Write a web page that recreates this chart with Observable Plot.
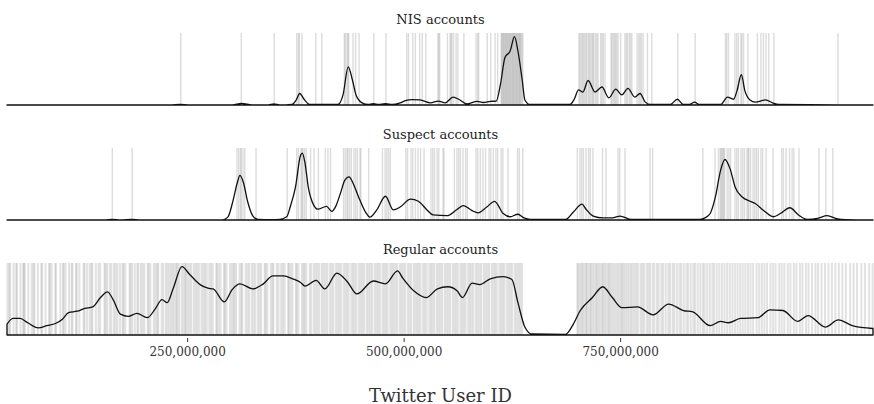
<!DOCTYPE html>
<html>
<head>
<meta charset="utf-8">
<script src="https://cdn.jsdelivr.net/npm/d3@7"></script>
<script src="https://cdn.jsdelivr.net/npm/@observablehq/plot@0.6"></script>
<style>
  html, body { margin: 0; padding: 0; background: #fff; }
</style>
</head>
<body>
<div id="chart"></div>
<script>
// Facet names
const groups = ["NIS accounts", "Suspect accounts", "Regular accounts"];

// X tick values (Twitter user ID, in millions)
const xTicks = [250, 500, 750];
const xLabel = "Twitter User ID";

// Rug: individual account IDs (millions)
const nisIds = [242,312,350,376,378,379,382,398,405,431,432,434,435,436,441,444,448,465,479,503,505,510,513,518,521,525,539,540,541,550,553,554,555,557,560,562,569,583,585,586,596,600,605,608,612,612.8,613.5,614.4,615,616,616.7,617.5,618.3,619,620,620.6,621.5,622.3,623,624,624.8,625.5,626.3,627,628,628.7,629.5,630.4,631,632,632.8,633.5,634.2,635,636,637,702,703,704.5,706,707,708.5,710,711,713,714,715.5,717,718,719,721,722.5,724,727,728.5,730,732,739,740,741.5,743,744,745.5,747,750,755,756.5,758,760,761.5,763,769,771,772.5,774,776,781,786,816,836,871,872.5,874.5,882,884,886,889,890,892,897,908,912,915,918,921,927,1001];

const suspectIds = [163,186,307,309,311,312,314,316,329,365,376,378,381,382,383,385,387,392,396,401,409,412,415,430,432,434,435,437,439,442,444,446,449,450,459,475,478,480,482,484,502,504,508,510,513,516,519,523,531,533,535,538,540,545,546,558,561,563,565,568,571,573,583,585,588,591,594,598,600,603,606,608,612,614,620,631,633,637,700,703,705,707,710,713,715,718,729,733,747,749,755,784,787,845,859,863,865,866,867,868,869,870,873,875,877,882,884,886,889,891,893,896,897,898,900,903,905,907,909,912,914,918,926,936,938,941,945,948,950,956,979,987,995];

const regularIds = [42,44,45,49,52,53,57,60,61,62,66,70,72,73,77,81,82,86,90,91,93,97,98,103,106,107,109,113,116,117,121,122,125,130,131,134,137,139,140,144,147,149,154,155,157,160,162,165,167,169,172,175,176,178,183,184,186,189,192,193,196,198,200,204,205,207,211,213,215,216,220,222,225,227,229,231,233,235,237,238,240,243,245,247,248,250,252,254,257,259,261,263,266,268,270,272,275,277,279,283,284,286,288,292,293,295,299,301,303,304,306,310,312,313,317,319,321,324,326,328,331,333,335,339,340,342,346,348,349,353,355,358,360,362,366,367,369,371,375,376,378,382,384,385,387,391,393,396,398,400,402,405,407,409,411,414,416,418,421,423,425,427,430,432,434,436,439,441,443,445,448,450,452,454,457,459,461,463,466,468,470,472,475,477,479,481,484,486,488,490,492,495,497,499,501,504,506,508,511,513,515,517,519,522,524,526,529,531,533,535,538,540,542,544,547,549,551,553,556,558,560,562,565,567,569,571,574,576,578,580,583,585,587,589,592,594,596,598,601,603,605,607,610,612,614,616,619,621,623,625,628,630,632,634,636,700,701,703,705,706,708,710,711,713,715,716,718,720,722,723,725,727,729,730,732,734,736,737,739,741,743,745,747,749,751,752,754,756,758,760,762,764,766,768,770,773,775,777,780,782,784,787,789,792,794,797,799,802,805,807,810,812,815,818,820,823,826,828,831,834,836,839,842,845,847,850,853,856,858,861,864,867,870,873,876,879,882,885,888,891,894,897,900,903,907,910,913,916,919,923,926,929,933,936,939,943,946,950,953,957,960,964,967,971,975,978,982,986,990,994,998,1002,1006,1010,1015,1019,1023,1028,1032,1037,1041];

// Density curves (x in millions, y = relative density)
const nisCurveX = [42,230,242,253,302,313,325,344,350,357,371,376,380,385,392,424,430,436,441,445,452,459,465,471,479,487,496,502,510,519,531,540,548,557,565,573,585,592,600,607,612,617,623,628,632,637,640,646,692,697,702,707,713,721,729,737,745,752,759,767,773,779,785,808,816,823,830,836,841,866,874,881,885,890,894,900,906,918,926,933,1042];
const nisCurveY = [0,0,.008,0,0,.023,0,0,.014,0,.007,.07,.16,.08,.007,.007,.14,.53,.34,.14,.03,.007,.02,.007,.02,.007,.03,.06,.075,.07,.03,.055,.03,.11,.07,.014,.05,.035,.05,.055,.30,.66,.75,.95,.75,.34,.07,.007,.007,.08,.21,.18,.34,.18,.25,.10,.22,.14,.23,.11,.16,.04,.007,.007,.08,.007,.007,.04,.007,.007,.11,.08,.20,.42,.20,.07,.04,.07,.03,.007,0];

const suspectCurveX = [42,155,163,173,186,196,290,297,303,308,311,315,320,326,332,346,357,365,369,375,381,383,386,390,396,401,411,417,422,427,432,437,442,448,456,461,469,479,488,496,508,517,527,534,550,562,569,579,586,596,605,615,623,632,639,646,687,696,706,710,719,730,741,750,762,842,848,854,860,866,871,877,883,891,900,906,915,927,935,946,956,966,978,989,1001,1010,1042];
const suspectCurveY = [0,0,.01,0,.01,0,0,.04,.27,.52,.62,.52,.25,.055,.007,.004,.01,.045,.18,.45,.90,.93,.80,.45,.21,.15,.19,.12,.20,.37,.55,.60,.50,.32,.11,.04,.14,.33,.14,.18,.29,.26,.14,.07,.06,.15,.20,.13,.10,.18,.26,.09,.045,.08,.03,.01,.007,.11,.22,.16,.055,.03,.03,.055,.01,.01,.03,.09,.32,.69,.84,.71,.45,.32,.26,.23,.14,.045,.09,.17,.07,.01,.023,.06,.014,.004,0];

const regularCurveX = [42,49,57,66,78,88,98,106,113,123,132,141,150,158,165,173,182,192,204,213,221,227,234,244,253,265,274,280,293,302,311,326,338,349,361,372,381,386,399,409,423,435,446,465,479,493,499,512,526,539,551,562,568,579,588,600,615,625,632,640,648,687,695,704,718,730,741,752,770,788,806,823,834,854,866,875,889,909,923,938,955,967,987,1002,1018,1042];
const regularCurveY = [.15,.23,.23,.17,.10,.13,.16,.22,.31,.33,.37,.39,.52,.60,.48,.29,.26,.30,.24,.36,.49,.45,.65,.95,.84,.70,.65,.64,.46,.63,.71,.64,.71,.82,.82,.78,.73,.68,.76,.64,.86,.74,.57,.75,.71,.89,.79,.61,.52,.64,.67,.61,.52,.72,.70,.78,.81,.77,.45,.11,.014,.01,.13,.34,.52,.67,.52,.38,.39,.28,.43,.34,.32,.13,.19,.17,.23,.24,.35,.34,.19,.27,.11,.21,.13,.09];

// Build tables for Plot
const rugSparse = [nisIds, suspectIds].flatMap((ids, i) => ids.map(id => ({group: groups[i], id})));
const rugDense = regularIds.map(id => ({group: groups[2], id}));
const curveSets = [[nisCurveX, nisCurveY], [suspectCurveX, suspectCurveY], [regularCurveX, regularCurveY]];
const curves = curveSets.flatMap(([xs, ys], i) => xs.map((x, j) => ({group: groups[i], x, y: ys[j]})));

const fmt = d => d3.format(",")(d * 1e6);

const chart = Plot.plot({
  width: 874,
  height: 404,
  marginTop: 32,
  marginBottom: 68,
  marginLeft: 7,
  marginRight: 1,
  style: {fontFamily: "'DejaVu Serif', serif", fontSize: "12px", color: "#333", background: "#fff"},
  x: {domain: [42, 1042]},
  y: {domain: [0, 1], axis: null},
  fy: {domain: groups, axis: null, paddingInner: 0.37, paddingOuter: 0},
  marks: [
    Plot.ruleX(rugSparse, {x: "id", fy: "group", stroke: "#a8a8a8", strokeOpacity: 0.4, strokeWidth: 1.4}),
    Plot.ruleX(rugDense, {x: "id", fy: "group", stroke: "#b0b0b0", strokeOpacity: 0.36, strokeWidth: 2}),
    Plot.areaY(curves, {x: "x", y: "y", fy: "group", fill: "none", stroke: "#111", strokeWidth: 1.3, curve: "monotone-x"}),
    Plot.text(groups, {fy: d => d, text: d => d, frameAnchor: "top", lineAnchor: "bottom", dy: -9.5, fontSize: 13, fill: "#222"}),
    Plot.axisX({ticks: xTicks, tickFormat: fmt, tickSize: 4, tickPadding: 5, dy: 3, label: null, fontSize: 12}),
    Plot.axisX({ticks: [], label: xLabel, labelArrow: false, labelAnchor: "center", labelOffset: 66, fontSize: 18})
  ]
});
// Make sure the axis title carries no direction arrow
chart.querySelectorAll("text").forEach(t => {
  if (t.textContent.includes(xLabel) && t.textContent !== xLabel) t.textContent = xLabel;
});
document.getElementById("chart").appendChild(chart);
</script>
</body>
</html>
